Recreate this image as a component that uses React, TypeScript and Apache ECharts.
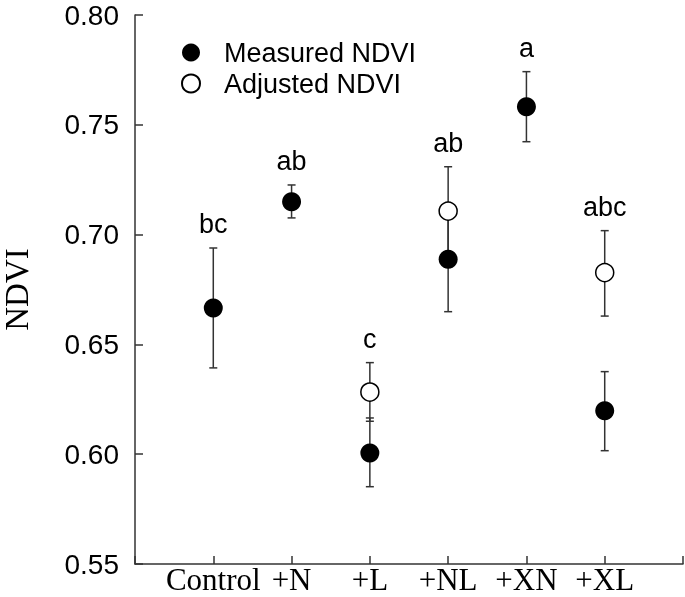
import React, { useEffect, useRef } from "react";
import * as echarts from "echarts";

const categories = ["Control", "+N", "+L", "+NL", "+XN", "+XL"];
const measured = [0.6666, 0.715, 0.6005, 0.6888, 0.7582, 0.6198];
const measuredLow = [0.6393, 0.7076, 0.5852, 0.6649, 0.7423, 0.6016];
const measuredHigh = [0.6939, 0.7226, 0.6165, 0.7127, 0.7742, 0.6376];
const adjusted: (number | null)[] = [null, null, 0.6283, 0.7107, null, 0.6827];
const adjustedLow: (number | null)[] = [null, null, 0.615, 0.6905, null, 0.6629];
const adjustedHigh: (number | null)[] = [null, null, 0.6417, 0.7309, null, 0.7018];
const letters = ["bc", "ab", "c", "ab", "a", "abc"];

const SANS = "Liberation Sans, Arial, sans-serif";
const SERIF = "Liberation Serif, Times New Roman, serif";
const LINE = "#333";

export default function App() {
  const ref = useRef<HTMLDivElement>(null);
  useEffect(() => {
    if (!ref.current) return;
    document.body.style.margin = "0";
    const chart = echarts.init(ref.current, null, { renderer: "svg" });

    const measuredData = measured.map((v, i) => [i + 1, v]);
    const adjustedData = adjusted
      .map((v, i) => (v == null ? null : [i + 1, v]))
      .filter((d) => d !== null);
    const errMeasured = measured.map((_, i) => [i + 1, measuredLow[i], measuredHigh[i]]);
    const errAdjusted = adjusted
      .map((v, i) => (v == null ? null : [i + 1, adjustedLow[i], adjustedHigh[i]]))
      .filter((d) => d !== null);
    const letterData = categories.map((_, i) => [
      i + 1,
      Math.max(measuredHigh[i], adjustedHigh[i] ?? -Infinity),
    ]);

    const errRender = (params: any, api: any) => {
      const x = api.value(0);
      const lo = api.coord([x, api.value(1)]);
      const hi = api.coord([x, api.value(2)]);
      const cap = 4;
      const style = { stroke: LINE, lineWidth: 1.5 };
      return {
        type: "group",
        children: [
          { type: "line", shape: { x1: lo[0], y1: lo[1], x2: hi[0], y2: hi[1] }, style },
          { type: "line", shape: { x1: hi[0] - cap, y1: hi[1], x2: hi[0] + cap, y2: hi[1] }, style },
          { type: "line", shape: { x1: lo[0] - cap, y1: lo[1], x2: lo[0] + cap, y2: lo[1] }, style },
        ],
      };
    };

    chart.setOption({
      animation: false,
      grid: {
        left: 135,
        right: 2,
        top: 15,
        bottom: 33,
        containLabel: false,
        outerBoundsMode: "none",
      },
      legend: {
        orient: "vertical",
        left: 176,
        top: 34,
        itemWidth: 56,
        itemHeight: 18,
        itemGap: 4,
        textStyle: { fontFamily: SANS, fontSize: 27, color: "#000", lineHeight: 26 },
        data: [
          { name: "Measured NDVI", icon: "circle" },
          { name: "Adjusted NDVI", icon: "circle" },
        ],
      },
      xAxis: {
        type: "value",
        min: 0,
        max: 7,
        interval: 1,
        splitLine: { show: false },
        axisLine: { show: true, lineStyle: { color: LINE, width: 1.5 } },
        axisTick: { show: true, inside: true, length: 8, lineStyle: { color: LINE, width: 1.5 } },
        axisLabel: {
          fontFamily: SERIF,
          fontSize: 31,
          lineHeight: 31,
          color: "#000",
          margin: 0,
          formatter: (v: number) => categories[v - 1] ?? "",
        },
      },
      yAxis: {
        type: "value",
        min: 0.55,
        max: 0.8,
        interval: 0.05,
        splitLine: { show: false },
        axisLine: { show: true, lineStyle: { color: LINE, width: 1.5 } },
        axisTick: { show: true, inside: true, length: 8, lineStyle: { color: LINE, width: 1.5 } },
        axisLabel: {
          fontFamily: SANS,
          fontSize: 28,
          color: "#000",
          margin: 16,
          formatter: (v: number) => v.toFixed(2),
        },
        name: "NDVI",
        nameLocation: "middle",
        nameRotate: 90,
        nameGap: 102,
        nameTextStyle: { fontFamily: SERIF, fontSize: 33, lineHeight: 33, color: "#000" },
      },
      series: [
        { type: "custom", name: "errM", renderItem: errRender, data: errMeasured, z: 1 },
        { type: "custom", name: "errA", renderItem: errRender, data: errAdjusted, z: 1 },
        {
          type: "custom",
          name: "letters",
          z: 1,
          data: letterData,
          renderItem: (params: any, api: any) => {
            const p = api.coord([api.value(0), api.value(1)]);
            return {
              type: "text",
              x: p[0],
              y: p[1] - 24,
              style: {
                text: letters[params.dataIndex],
                fontFamily: SANS,
                fontSize: 27,
                fill: "#000",
                textAlign: "center",
                textVerticalAlign: "middle",
              },
            };
          },
        },
        {
          type: "scatter",
          name: "Measured NDVI",
          data: measuredData,
          symbol: "circle",
          symbolSize: 19,
          itemStyle: { color: "#000", opacity: 1 },
          z: 3,
        },
        {
          type: "scatter",
          name: "Adjusted NDVI",
          data: adjustedData,
          symbol: "circle",
          symbolSize: 18,
          itemStyle: { color: "#fff", borderColor: "#000", borderWidth: 1.5, opacity: 1 },
          z: 3,
        },
      ],
    });
    return () => chart.dispose();
  }, []);
  return (
    <div
      ref={ref}
      style={{ width: 685, height: 597, position: "fixed", left: 0, top: 0 }}
    />
  );
}
